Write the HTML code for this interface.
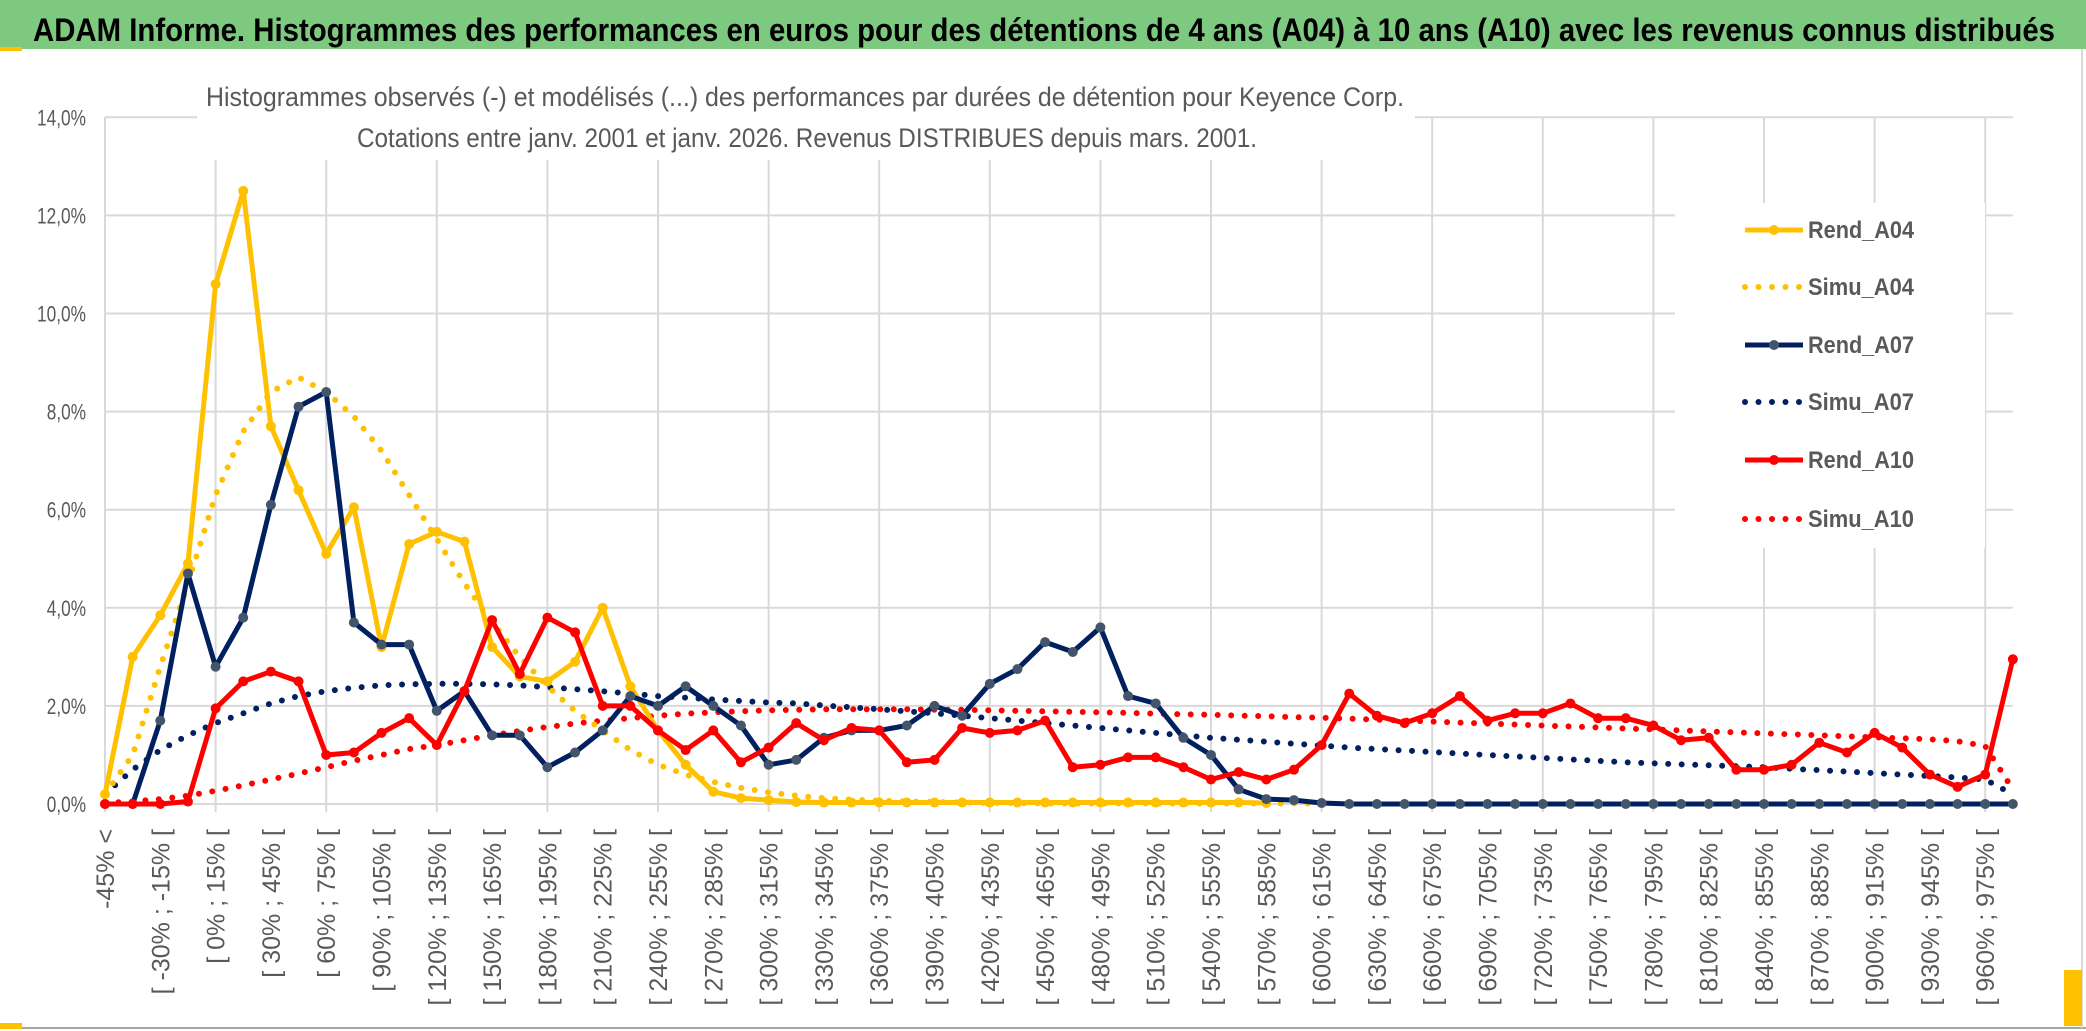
<!DOCTYPE html>
<html><head><meta charset="utf-8"><style>
html,body{margin:0;padding:0;background:#fff;}
svg{display:block;font-family:"Liberation Sans",sans-serif;}
</style></head><body>
<svg id="chart" width="2086" height="1031" viewBox="0 0 2086 1031">
<rect x="0" y="0" width="2086" height="1031" fill="#fff"/>
<rect x="0" y="0" width="2086" height="49" fill="#7dc97f"/>
<rect x="0" y="47" width="22" height="4" fill="#ffc000"/>
<text x="33" y="41" font-size="32" font-weight="bold" fill="#000" textLength="2022" lengthAdjust="spacingAndGlyphs">ADAM Informe. Histogrammes des performances en euros pour des détentions de 4 ans (A04) à 10 ans (A10) avec les revenus connus distribués</text>
<line x1="0" y1="1028" x2="2086" y2="1028" stroke="#a6a6a6" stroke-width="2"/>
<line x1="2082" y1="49" x2="2082" y2="1028" stroke="#d9d9d9" stroke-width="2"/>
<rect x="2064" y="970" width="18" height="56" fill="#ffc000"/>
<rect x="0" y="1023" width="22" height="6" fill="#ffc000"/>
<g id="grid"></g>
<rect x="197" y="78" width="1218" height="82" fill="#fff"/>
<rect x="1675" y="203" width="310" height="345" fill="#fff"/>
<g id="series"></g>
<text x="206" y="106" font-size="27" fill="#595959" textLength="1198" lengthAdjust="spacingAndGlyphs">Histogrammes observés (-) et modélisés (...) des performances par durées de détention pour Keyence Corp.</text>
<text x="357" y="147" font-size="27" fill="#595959" textLength="900" lengthAdjust="spacingAndGlyphs">Cotations entre janv. 2001 et janv. 2026. Revenus DISTRIBUES depuis mars. 2001.</text>
<g id="legend"></g>
</svg>
<script>
const categories = (function(){const c=["-45% <"];for(let k=1;k<70;k++){const a=-45+15*(k-1);c.push("[ "+a+"% ; "+(a+15)+"% [");}return c;})();
const yTicks = [0,2,4,6,8,10,12,14];
const yTickLabels = ["0,0%","2,0%","4,0%","6,0%","8,0%","10,0%","12,0%","14,0%"];
const seriesNames = ["Rend_A04","Simu_A04","Rend_A07","Simu_A07","Rend_A10","Simu_A10"];
const rendA04 = [0.2,3.0,3.85,4.9,10.6,12.5,7.7,6.4,5.1,6.05,3.2,5.3,5.55,5.35,3.2,2.6,2.5,2.9,4.0,2.4,1.5,0.8,0.25,0.12,0.08,0.04,0.03,0.03,0.03,0.03,0.03,0.03,0.03,0.03,0.03,0.03,0.03,0.03,0.03,0.03,0.03,0.03,0.02];
const simuA04 = [0.2,1.0,2.8,4.5,6.3,7.6,8.4,8.7,8.4,7.9,7.2,6.3,5.4,4.5,3.7,3.0,2.4,1.9,1.5,1.1,0.8,0.6,0.45,0.33,0.24,0.17,0.12,0.09,0.07,0.05,0.04,0.03,0.02,0.02,0.01,0.01,0.01,0.01,0.01,0.01,0.01,0.01,0.01,0.01,0.01];
const rendA07 = [0,0,1.7,4.7,2.8,3.8,6.1,8.1,8.4,3.7,3.25,3.25,1.9,2.3,1.4,1.4,0.75,1.05,1.5,2.2,2.0,2.4,2.0,1.6,0.8,0.9,1.35,1.5,1.5,1.6,2.0,1.8,2.45,2.75,3.3,3.1,3.6,2.2,2.05,1.35,1.0,0.3,0.1,0.08,0.02,0,0,0,0,0,0,0,0,0,0,0,0,0,0,0,0,0,0,0,0,0,0,0,0,0];
const simuA07 = [0.2,0.7,1.1,1.4,1.65,1.85,2.05,2.2,2.3,2.37,2.42,2.44,2.45,2.45,2.44,2.42,2.38,2.34,2.3,2.25,2.2,2.17,2.13,2.1,2.07,2.05,2.01,1.97,1.93,1.89,1.85,1.8,1.75,1.7,1.65,1.6,1.55,1.5,1.45,1.4,1.35,1.31,1.27,1.23,1.19,1.15,1.12,1.09,1.06,1.03,1.0,0.97,0.94,0.91,0.88,0.85,0.83,0.81,0.79,0.77,0.75,0.72,0.69,0.66,0.63,0.6,0.57,0.54,0.5,0.2];
const rendA10 = [0,0,0,0.05,1.95,2.5,2.7,2.5,1.0,1.05,1.45,1.75,1.2,2.3,3.75,2.65,3.8,3.5,2.0,2.0,1.5,1.1,1.5,0.85,1.15,1.65,1.3,1.55,1.5,0.85,0.9,1.55,1.45,1.5,1.7,0.75,0.8,0.95,0.95,0.75,0.5,0.65,0.5,0.7,1.2,2.25,1.8,1.65,1.85,2.2,1.7,1.85,1.85,2.05,1.75,1.75,1.6,1.3,1.35,0.7,0.7,0.8,1.25,1.05,1.45,1.15,0.6,0.35,0.6,2.95];
const simuA10 = [0.02,0.05,0.1,0.17,0.27,0.38,0.5,0.62,0.75,0.88,1.0,1.12,1.2,1.3,1.4,1.49,1.57,1.64,1.7,1.75,1.8,1.84,1.87,1.89,1.91,1.92,1.93,1.93,1.93,1.93,1.92,1.92,1.91,1.9,1.89,1.88,1.87,1.86,1.84,1.83,1.82,1.8,1.79,1.77,1.76,1.74,1.72,1.7,1.68,1.66,1.64,1.62,1.6,1.58,1.56,1.54,1.52,1.5,1.48,1.46,1.44,1.42,1.4,1.38,1.36,1.34,1.32,1.28,1.18,0.3];

const NS="http://www.w3.org/2000/svg";
const X0=105, DX=27.65, Y0=804, PY=49.05;
function xPos(i){return X0+i*DX;}
function yPos(v){return Y0-v*PY;}
function mk(tag,attrs,parent){const e=document.createElementNS(NS,tag);for(const k in attrs)e.setAttribute(k,attrs[k]);parent.appendChild(e);return e;}

const grid=document.getElementById('grid');
yTicks.forEach((t,i)=>{
  const l=mk('line',{x1:X0,x2:xPos(69),y1:yPos(t),y2:yPos(t),stroke:'#d9d9d9','stroke-width':2},grid);
  
  
  const tx=mk('text',{x:86,y:yPos(t)+8,'font-size':22,fill:'#595959','text-anchor':'end',textLength:yTickLabels[i].length*9.8,lengthAdjust:'spacingAndGlyphs'},grid);
  tx.textContent=yTickLabels[i];
  
  
});
for(let i=0;i<=68;i+=4){
  const l=mk('line',{x1:xPos(i),x2:xPos(i),y1:yPos(14),y2:Y0+8,stroke:'#d9d9d9','stroke-width':2},grid);
  
  
}
for(let i=0;i<categories.length;i+=2){
  const tx=mk('text',{x:0,y:0,'font-size':25,fill:'#595959','text-anchor':'end',transform:'translate('+(xPos(i)+9)+',829) rotate(-90)'},grid);
  tx.textContent=categories[i];
  
  
}

const sg=document.getElementById('series');
function pathOf(arr){let d='';arr.forEach((v,i)=>{if(v==null)return;d+=(d?'L':'M')+xPos(i).toFixed(1)+' '+yPos(v).toFixed(1);});return d;}
function dotted(arr,color,name){
  const p=mk('path',{d:pathOf(arr),fill:'none',stroke:color,'stroke-width':6,'stroke-linecap':'round','stroke-dasharray':'0 13.5'},sg);
  
  
}
function solid(arr,color,mcolor,name){
  const g=mk('g',{},sg);
  
  
  mk('path',{d:pathOf(arr),fill:'none',stroke:color,'stroke-width':5,'stroke-linejoin':'round'},g);
  arr.forEach((v,i)=>{if(v==null)return;
    const c=mk('circle',{cx:xPos(i),cy:yPos(v),r:5,fill:mcolor},g);
    
    
  });
}
dotted(simuA10,'#ff0000','simu-a10-line');
dotted(simuA07,'#002060','simu-a07-line');
dotted(simuA04,'#ffc000','simu-a04-line');
solid(rendA04,'#ffc000','#ffc000','rend-a04-line');
solid(rendA07,'#002060','#44546a','rend-a07-line');
solid(rendA10,'#ff0000','#ff0000','rend-a10-line');

const lg=document.getElementById('legend');
const legY=[230,287,345,402,460,519];
const legC=['#ffc000','#ffc000','#002060','#002060','#ff0000','#ff0000'];
seriesNames.forEach((n,i)=>{
  const g=mk('g',{},lg);
  
  
  const isSim=n.startsWith('Simu');
  const a={x1:1745,x2:1803,y1:legY[i],y2:legY[i],stroke:legC[i],'stroke-width':isSim?6:5};
  if(isSim){a['stroke-linecap']='round';a['stroke-dasharray']='0 13.5';}
  mk('line',a,g);
  if(!isSim)mk('circle',{cx:1774,cy:legY[i],r:5,fill:i==2?'#44546a':legC[i]},g);
  const t=mk('text',{x:1808,y:legY[i]+8,'font-size':24,'font-weight':'bold',fill:'#595959',textLength:106,lengthAdjust:'spacingAndGlyphs'},g);
  t.textContent=n;
});
</script>
</body></html>
